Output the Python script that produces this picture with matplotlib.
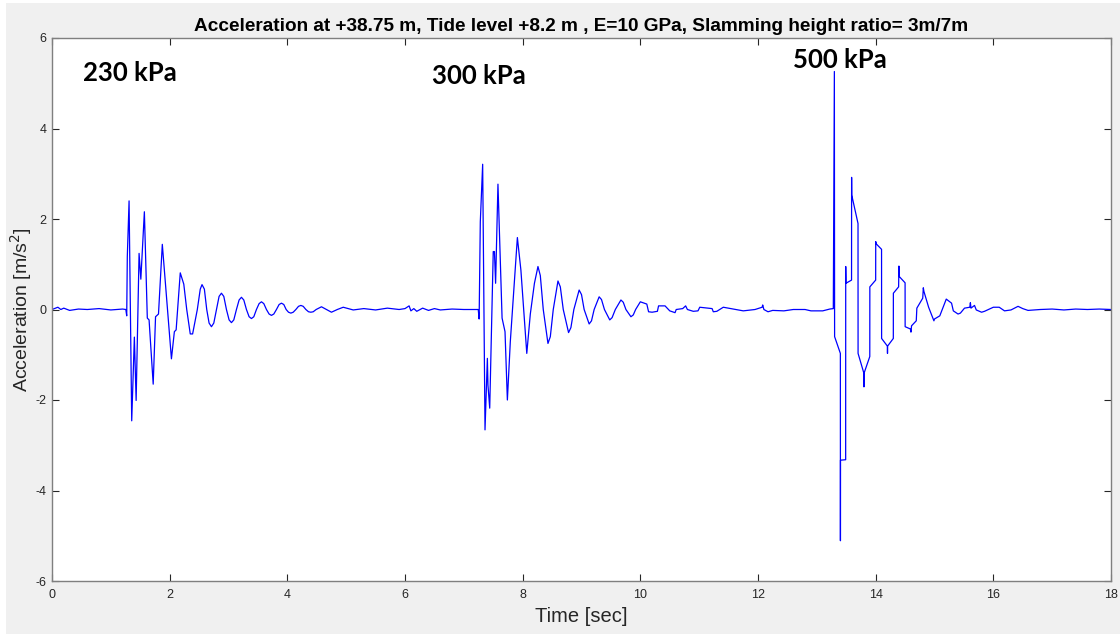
import matplotlib
matplotlib.use('Agg')
import matplotlib.pyplot as plt
from matplotlib.patches import Rectangle
import numpy as np

plt.rcParams['axes.unicode_minus'] = False

# Signal, split by impact (time in s, accel in m/s^2)
t_230 = [0.0, 0.1, 0.15, 0.2, 0.3, 0.45, 0.6, 0.8, 1.0, 1.1, 1.2, 1.255,
         1.27, 1.28, 1.31, 1.355, 1.40, 1.43, 1.48, 1.51, 1.57, 1.62, 1.65,
         1.72, 1.76, 1.81, 1.875, 1.94, 2.03, 2.08, 2.11, 2.18, 2.24, 2.29,
         2.35, 2.39, 2.47, 2.52, 2.55, 2.59, 2.63, 2.67, 2.71, 2.75, 2.795,
         2.84, 2.88, 2.92, 2.965, 3.01, 3.05, 3.09, 3.135, 3.18, 3.22, 3.26,
         3.305, 3.35, 3.39, 3.43, 3.475, 3.52, 3.56, 3.60, 3.645, 3.69, 3.73,
         3.77, 3.815, 3.86, 3.90, 3.94, 3.98, 4.02, 4.06, 4.10, 4.145, 4.19,
         4.23, 4.27, 4.315, 4.36, 4.40, 4.44, 4.49, 4.58, 4.665, 4.75, 4.85,
         4.95, 5.12, 5.3, 5.5, 5.7, 5.9, 6.0, 6.07, 6.1, 6.15, 6.2, 6.3, 6.4,
         6.5, 6.6, 6.8, 7.0, 7.2, 7.245]
a_230 = [0.0, 0.05, 0.0, 0.03, -0.02, 0.01, 0.0, 0.02, -0.01, 0.0, 0.01, 0.0,
         -0.14, 1.17, 2.40, -2.46, -0.61, -2.01, 1.24, 0.67, 2.16, -0.19, -0.23,
         -1.65, -0.16, -0.10, 1.44, 0.39, -1.09, -0.49, -0.45, 0.81, 0.56, 0.0,
         -0.54, -0.54, 0.0, 0.45, 0.55, 0.45, 0.0, -0.30, -0.38, -0.30, 0.0,
         0.29, 0.36, 0.29, 0.0, -0.23, -0.29, -0.23, 0.0, 0.21, 0.27, 0.21,
         0.0, -0.16, -0.20, -0.16, 0.0, 0.13, 0.17, 0.13, 0.0, -0.10, -0.13,
         -0.10, 0.0, 0.11, 0.14, 0.11, 0.0, -0.06, -0.08, -0.06, 0.0, 0.07,
         0.09, 0.07, 0.0, -0.05, -0.06, -0.05, 0.0, 0.06, 0.0, -0.06, 0.0,
         0.05, -0.01, 0.02, -0.01, 0.03, 0.0, 0.02, 0.08, -0.03, 0.02, -0.04,
         0.03, -0.02, 0.02, -0.01, 0.01, 0.0, 0.0, 0.0]

t_300 = [7.26, 7.28, 7.32, 7.36, 7.40, 7.41, 7.44, 7.50, 7.52, 7.54, 7.58,
         7.65, 7.70, 7.74, 7.79, 7.91, 7.97, 8.07, 8.13, 8.20, 8.26, 8.30, 8.35,
         8.43, 8.47, 8.52, 8.60, 8.64, 8.69, 8.78, 8.82, 8.87, 8.96, 9.00,
         9.045, 9.13, 9.17, 9.215, 9.30, 9.34, 9.39, 9.48, 9.52, 9.575, 9.67,
         9.71, 9.755, 9.84, 9.88, 9.92, 10.0, 10.11, 10.14, 10.2, 10.29, 10.31,
         10.42, 10.5, 10.59, 10.61, 10.72, 10.77, 10.8, 10.9, 10.98, 11.01,
         11.15, 11.22, 11.24, 11.3, 11.41, 11.58, 11.75, 11.95, 12.07, 12.08,
         12.10, 12.17, 12.25, 12.44, 12.6, 12.8, 12.9, 13.1, 13.22, 13.28]
a_300 = [-0.21, 1.94, 3.21, -2.66, -1.08, -1.67, -2.18, 1.28, 1.28, 0.58, 2.77,
         -0.19, -0.49, -2.00, -0.71, 1.59, 0.87, -0.97, -0.10, 0.58, 0.95, 0.75,
         0.0, -0.75, -0.60, 0.0, 0.63, 0.50, 0.0, -0.51, -0.40, 0.0, 0.43,
         0.33, 0.0, -0.32, -0.25, 0.0, 0.28, 0.22, 0.0, -0.23, -0.18, 0.0,
         0.21, 0.16, 0.0, -0.16, -0.12, 0.0, 0.17, 0.12, -0.05, -0.06, -0.04,
         0.08, 0.08, -0.03, -0.07, 0.0, 0.02, 0.08, 0.0, -0.04, -0.03, 0.05,
         0.03, 0.02, -0.05, -0.04, 0.05, 0.01, -0.03, 0.0, 0.05, 0.10, 0.0,
         -0.05, -0.02, -0.03, 0.0, 0.0, -0.03, -0.03, 0.01, 0.02]

t_500 = [13.298, 13.302, 13.40, 13.401, 13.402, 13.49, 13.491, 13.495, 13.59,
         13.591, 13.593, 13.70, 13.701, 13.80, 13.801, 13.802, 13.90, 13.901,
         14.0, 14.001, 14.01, 14.10, 14.101, 14.20, 14.201, 14.202, 14.30,
         14.301, 14.39, 14.395, 14.40, 14.50, 14.501, 14.59, 14.60, 14.61,
         14.69, 14.70, 14.80, 14.81, 14.82, 14.90, 14.99, 15.0, 15.09, 15.20,
         15.22, 15.29, 15.32, 15.40, 15.44, 15.51, 15.60, 15.61, 15.62, 15.68,
         15.71, 15.80, 15.85, 16.00, 16.10, 16.19, 16.30, 16.42, 16.50, 16.59,
         16.8, 17.0, 17.2, 17.4, 17.6, 17.8, 18.0]
a_500 = [5.26, -0.60, -0.97, -5.11, -3.33, -3.32, 0.95, 0.58, 0.65,
         2.92, 2.53, 1.90, -0.97, -1.41, -1.71, -1.41, -1.04, 0.50,
         0.65, 1.50, 1.45, 1.33, -0.64, -0.81, -0.97, -0.81, -0.64,
         0.36, 0.50, 0.96, 0.73, 0.59, -0.38, -0.43, -0.50, -0.36,
         -0.25, 0.03, 0.25, 0.48, 0.40, 0.05, -0.25, -0.21, -0.14, 0.23,
         0.21, 0.14, -0.03, -0.10, -0.08, 0.03, 0.05, 0.15, 0.03, 0.09,
         -0.01, -0.06, -0.04, 0.05, 0.05, -0.03, -0.01, 0.07, 0.02, -0.02,
         0.0, 0.01, -0.01, 0.01, 0.0, 0.01, 0.0]

labels = ['230 kPa', '300 kPa', '500 kPa']
label_t = [0.53, 6.46, 12.59]
label_y = [5.23, 5.16, 5.51]

title = 'Acceleration at +38.75 m, Tide level +8.2 m , E=10 GPa, Slamming height ratio= 3m/7m'

t = np.concatenate([t_230, t_300, t_500])
a = np.concatenate([a_230, a_300, a_500])

fig = plt.figure(figsize=(11.2, 6.35), dpi=100, facecolor='white')
fig.patches.append(Rectangle((6 / 1120, 1 / 635), 1, 631 / 635, transform=fig.transFigure,
                             facecolor='#f0f0f0', edgecolor='none', zorder=-1))
ax = fig.add_axes([52 / 1120, 54 / 635, 1059 / 1120, 543 / 635])
ax.set_facecolor('white')

ax.plot(t, a, color='#0000ff', lw=0.9)

ax.set_xlim(0, 18)
ax.set_ylim(-6, 6)
ax.set_xticks(np.arange(0, 19, 2))
ax.set_yticks(np.arange(-6, 7, 2))
ax.tick_params(direction='in', top=True, right=True, length=5, width=0.8,
               color='#262626', labelsize=9, labelcolor='#262626')
ax.tick_params(axis='x', pad=6)
ax.tick_params(axis='y', pad=4)
for s in ax.spines.values():
    s.set_color('#7f7f7f')
    s.set_linewidth(1.0)

for lab, x, y in zip(labels, label_t, label_y):
    ax.text(x, y, lab, ha='left', va='center', fontsize=18.5, fontweight='bold',
            family='Lato', color='black')

ax.set_title(title, fontsize=13.7, fontweight='bold', family='Liberation Sans', pad=5)
ax.set_xlabel('Time [sec]', fontsize=14.5, family='Liberation Sans', color='#262626', labelpad=4)
ax.set_ylabel('Acceleration [m/s$^2$]', fontsize=14, family='Liberation Sans', color='#262626',
              labelpad=1)
for lbl in ax.get_xticklabels() + ax.get_yticklabels():
    lbl.set_family('Liberation Sans')

fig.savefig('out.png', dpi=100, facecolor=fig.get_facecolor())
